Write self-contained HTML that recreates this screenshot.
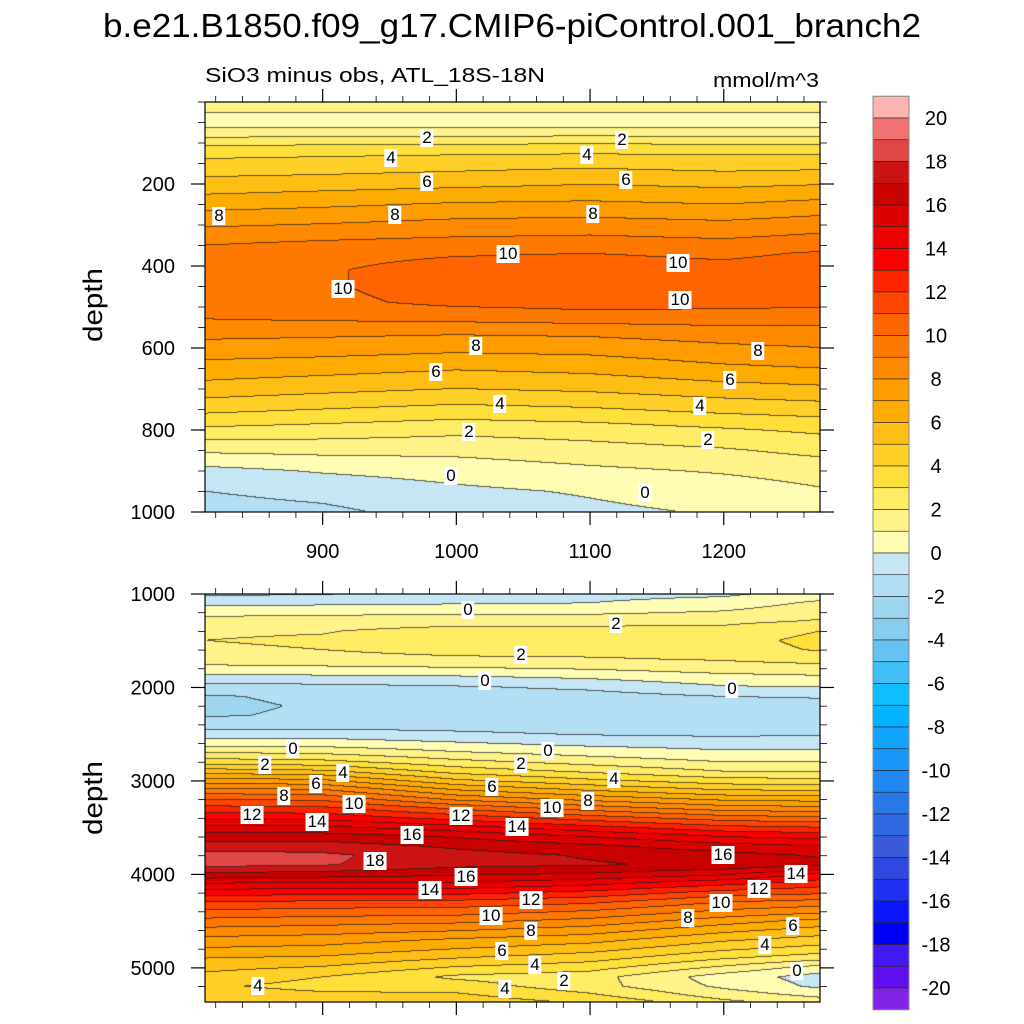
<!DOCTYPE html>
<html><head><meta charset="utf-8"><style>
body{margin:0;background:#fff;}
#root{position:relative;width:1024px;height:1024px;overflow:hidden;background:#fff;font-family:"Liberation Sans",sans-serif;}
canvas{position:absolute;}
.lbl{position:absolute;transform:translate(-50%,-50%);background:#fff;font-size:17px;line-height:18px;padding:0 2px;color:#000;}
svg{position:absolute;left:0;top:0;}
</style></head><body>
<div id="root">
<canvas id="cTop" width="615" height="410" style="left:205px;top:102px"></canvas>
<canvas id="cBot" width="615" height="408" style="left:205px;top:594px"></canvas>
<svg id="ax" width="1024" height="1024">
<text x="103" y="37" font-size="33" textLength="818" lengthAdjust="spacingAndGlyphs" font-family="Liberation Sans">b.e21.B1850.f09_g17.CMIP6-piControl.001_branch2</text>
<text x="205" y="82" font-size="20" textLength="340" lengthAdjust="spacingAndGlyphs" font-family="Liberation Sans">SiO3 minus obs, ATL_18S-18N</text>
<text x="713" y="87" font-size="20" textLength="106" lengthAdjust="spacingAndGlyphs" font-family="Liberation Sans">mmol/m^3</text>
<text transform="translate(102,305) rotate(-90)" font-size="27" text-anchor="middle" textLength="74" lengthAdjust="spacingAndGlyphs" font-family="Liberation Sans">depth</text>
<text transform="translate(102,798) rotate(-90)" font-size="27" text-anchor="middle" textLength="74" lengthAdjust="spacingAndGlyphs" font-family="Liberation Sans">depth</text>
</svg>
</div>
<script>
// ---- data ----
const xCols = [812, 900, 1000, 1100, 1200, 1272];
const topDepths = [0,20,40,60,80,100,130,170,210,250,290,330,370,410,450,490,520,560,600,650,700,750,800,850,900,950,1000];
const top812  = [1.6,1.2,0.7,0.9,1.6,2.7,3.8,4.7,5.6,6.6,7.6,8.6,9.4,9.7,9.8,9.6,9.2,8.4,7.6,6.6,5.6,4.3,2.8,1.2,-0.3,-1.0,-1.4];
const top900  = [1.6,1.2,0.7,0.9,1.7,2.8,3.9,4.8,5.8,6.8,7.8,8.8,9.7,9.9,9.9,9.8,9.4,8.3,7.5,6.4,5.3,4.0,2.6,1.3,0.1,-0.7,-1.2];
const top1000 = [1.6,1.2,0.7,0.9,1.7,2.8,4.0,5.0,6.0,7.1,8.1,9.0,9.9,10.4,10.4,10.2,9.6,8.2,7.3,6.1,5.0,3.7,2.3,1.3,0.4,-0.2,-0.6];
const top1100 = [1.6,1.2,0.7,0.9,1.8,2.9,4.1,5.2,6.2,7.2,8.2,9.1,10.0,10.5,10.5,10.3,9.8,8.3,7.4,6.3,5.2,3.9,2.5,1.6,0.8,0.1,-0.2];
const top1200 = [1.6,1.2,0.7,0.9,1.7,2.8,4.0,5.0,6.0,7.0,8.0,8.9,9.8,10.3,10.4,10.2,9.8,8.6,7.8,6.8,5.6,4.3,2.9,1.9,1.1,0.5,0.1];
const top1272 = [1.6,1.2,0.7,0.9,1.7,2.8,4.0,5.1,6.2,7.3,8.3,9.2,10.1,10.5,10.5,10.3,9.6,8.7,8.0,7.0,5.8,4.5,3.2,2.3,1.4,0.9,0.6];
const botDepths = [1000,1100,1200,1300,1400,1500,1600,1700,1800,1900,2000,2100,2200,2300,2400,2500,2600,2700,2800,2900,3000,3100,3200,3300,3400,3500,3600,3700,3800,3900,4000,4100,4200,4300,4400,4500,4600,4700,4800,4900,5000,5100,5200,5300,5365];
const bot812  = [-1.2,-0.3,0.6,1.5,1.9,2.0,1.9,1.5,0.7,-0.4,-1.4,-2.1,-2.2,-2.1,-1.6,-0.5,0.5,2.0,3.5,5.5,7.5,9.3,11.0,12.4,13.8,15.3,16.5,17.5,18.4,18.3,16.8,15.0,13.5,12.0,10.8,9.7,8.7,7.7,6.9,6.0,5.3,4.7,4.2,4.6,5.0];
const bot900  = [-1.1,-0.2,0.7,1.6,1.95,2.1,2.0,1.6,0.8,-0.3,-1.3,-1.8,-1.9,-1.85,-1.5,-0.5,0.5,1.8,3.3,5.2,7.2,9.1,10.8,12.3,13.7,15.2,16.5,17.5,18.2,18.1,16.6,14.8,13.3,11.8,10.6,9.5,8.5,7.5,6.7,5.8,4.9,4.0,3.6,4.3,4.8];
const bot1000 = [-0.4,-0.1,0.8,1.7,2.3,2.5,2.4,1.8,0.9,-0.2,-1.1,-1.6,-1.9,-1.9,-1.5,-0.8,0.1,1.1,2.3,3.6,5.2,7.0,8.8,10.9,12.6,14.4,15.9,16.8,17.4,17.3,16.2,14.9,13.3,11.7,10.5,9.3,8.1,6.9,6.0,5.0,3.9,2.8,3.5,4.2,4.6];
const bot1100 = [-0.3,0.0,0.8,1.7,2.3,2.5,2.4,1.9,1.1,0.1,-0.8,-1.4,-1.7,-1.8,-1.6,-1.1,-0.3,0.6,1.6,2.8,4.2,5.9,7.7,9.6,11.5,13.3,15.0,16.2,16.9,17.1,15.9,14.3,12.7,11.2,9.9,8.7,7.5,6.4,5.4,4.4,3.4,2.4,2.4,3.2,3.8];
const bot1200 = [-0.2,0.4,1.1,1.8,2.3,2.6,2.5,2.1,1.5,0.6,-0.1,-1.0,-1.5,-1.6,-1.5,-1.2,-0.5,0.2,1.0,2.0,3.4,5.0,6.8,8.6,10.5,12.3,14.0,15.4,16.4,16.8,15.2,13.3,11.6,10.0,8.8,7.5,6.3,5.2,4.2,3.1,1.8,0.5,0.8,1.6,2.2];
const bot1272 = [0.4,1.2,1.7,2.1,3.0,3.3,3.1,2.4,1.6,0.8,0.0,-0.9,-1.4,-1.5,-1.4,-1.1,-0.5,0.2,1.0,2.0,3.3,4.9,6.6,8.4,10.2,12.0,13.7,15.0,15.9,16.3,13.8,12.5,11.2,9.6,8.3,6.7,5.6,4.6,3.6,2.4,0.6,-0.4,-0.2,0.8,1.5];
const xTicks = [900, 1000, 1100, 1200];
const topYTicks = [200, 400, 600, 800, 1000];
const botYTicks = [1000, 2000, 3000, 4000, 5000];
const cbLevels = [20,18,16,14,12,10,8,6,4,2,0,-2,-4,-6,-8,-10,-12,-14,-16,-18,-20];
const binColors = ["#ffb4b4","#f07272","#e04646","#cc1414","#c80000","#dc0000","#ec0000","#ff0000","#ff2400","#ff4600","#ff6400","#ff7800","#ff8a00","#ff9c00","#ffac00","#ffbe14","#ffd028","#ffe03a","#ffeb64","#fff288","#fffcb4","#c6e6f6","#b4def4","#9ed6f0","#88ccee","#66c2f2","#40bef6","#10beff","#00b2ff","#10a4ff","#1896fa","#2086f2","#2878ea","#3068e2","#3a5ada","#3048e2","#2030f2","#0a14ff","#0000f8","#4418f0","#6010f0","#8224e6"];
const topLabels = [["2",427,138],["2",622,140],["4",391,158],["4",587,155],["6",427,182],["6",626,180],["8",219,216],["8",395,215],["8",593,214],["10",508,254],["10",678,263],["10",343,289],["10",680,300],["8",476,346],["8",758,351],["6",436,372],["6",730,380],["4",500,404],["4",700,406],["2",469,432],["2",708,440],["0",451,476],["0",645,493]];
const botLabels = [["0",468,610],["2",616,624],["2",521,655],["0",485,681],["0",732,689],["0",293,749],["2",265,765],["0",548,751],["2",521,764],["4",343,773],["6",316,784],["4",614,779],["6",492,787],["8",284,796],["8",588,801],["10",354,804],["10",552,808],["12",252,815],["12",461,816],["14",317,822],["14",517,827],["16",412,835],["18",375,861],["16",723,855],["16",466,877],["14",430,890],["14",796,874],["12",759,889],["10",491,916],["12",531,900],["10",721,903],["8",688,918],["8",531,931],["6",793,926],["6",502,951],["4",765,945],["4",535,965],["2",564,981],["0",797,971],["4",258,986],["4",505,989]];

// ---- axes ----
const PX0=205, PX1=820;
const xMin=812, xMax=1272;
function xScale(v){return PX0+(v-xMin)/(xMax-xMin)*(PX1-PX0);}
const topY0=102, topY1=512, topDMin=0, topDMax=1000;
function yTop(d){return topY0+(d-topDMin)/(topDMax-topDMin)*(topY1-topY0);}
const botY0=594, botY1=1002, botDMin=1000, botDMax=5365;
function yBot(d){return botY0+(d-botDMin)/(botDMax-botDMin)*(botY1-botY0);}

function interp1(xs, v){
  if(v<=xs[0]) return [0,0,0];
  for(let i=0;i<xs.length-1;i++){ if(v<=xs[i+1]) return [i,i+1,(v-xs[i])/(xs[i+1]-xs[i])]; }
  return [xs.length-1,xs.length-1,0];
}
function hexRGB(h){return [parseInt(h.substr(1,2),16),parseInt(h.substr(3,2),16),parseInt(h.substr(5,2),16)];}
const binRGB = binColors.map(hexRGB);
function binIndex(v){
  let k=Math.floor(v);
  let idx = 20 - k; if(v>=20) idx=0;
  if(idx<0) idx=0; if(idx>41) idx=41; return idx;
}
function drawPanel(id, depths, cols, yInv){
  const cv=document.getElementById(id), ctx=cv.getContext('2d');
  const W=cv.width,H=cv.height, img=ctx.createImageData(W,H);
  const V=new Float32Array(W*H);
  for(let j=0;j<H;j++){
    const d=yInv(j+0.5); const [a,b,t]=interp1(depths,d);
    const colv=cols.map(c=>c[a]*(1-t)+c[b]*t);
    for(let i=0;i<W;i++){
      const xv=xMin+(i+0.5)/W*(xMax-xMin); const [p,q,s]=interp1(xCols,xv);
      V[j*W+i]=colv[p]*(1-s)+colv[q]*s;
    }
  }
  for(let j=0;j<H;j++)for(let i=0;i<W;i++){
    const v=V[j*W+i], f=Math.floor(v); let c=binRGB[binIndex(v)];
    let line=false;
    if(i<W-1 && Math.floor(V[j*W+i+1])!==f) line=true;
    if(j<H-1 && Math.floor(V[(j+1)*W+i])!==f) line=true;
    const o=(j*W+i)*4;
    if(line){img.data[o]=c[0]*0.3+20;img.data[o+1]=c[1]*0.3+20;img.data[o+2]=c[2]*0.3+20;}
    else{img.data[o]=c[0];img.data[o+1]=c[1];img.data[o+2]=c[2];}
    img.data[o+3]=255;
  }
  ctx.putImageData(img,0,0);
}
drawPanel('cTop', topDepths, [top812,top900,top1000,top1100,top1200,top1272], j=>topDMin+j/(topY1-topY0)*(topDMax-topDMin));
drawPanel('cBot', botDepths, [bot812,bot900,bot1000,bot1100,bot1200,bot1272], j=>botDMin+j/(botY1-botY0)*(botDMax-botDMin));

const svg=document.getElementById('ax'), NS='http://www.w3.org/2000/svg';
function mk(tag,attrs,name){const e=document.createElementNS(NS,tag);for(const k in attrs)e.setAttribute(k,attrs[k]);
  
  
  svg.appendChild(e);return e;}
function frame(y0,y1,yFn,majors,minorStep,dmin,dmax,name,showX){
  mk('rect',{x:PX0,y:y0,width:PX1-PX0,height:y1-y0,fill:'none',stroke:'#000','stroke-width':1.2},name+'-frame');
  for(let xv=820;xv<=1270;xv+=20){const X=xScale(xv);const maj=xTicks.includes(xv);const L=maj?13:6;
    mk('line',{x1:X,x2:X,y1:y0,y2:y0-L,stroke:'#000','stroke-width':maj?1.2:0.8},name+'-top-tick');
    mk('line',{x1:X,x2:X,y1:y1,y2:y1+L,stroke:'#000','stroke-width':maj?1.2:0.8},name+'-bottom-tick');}
  for(let d=dmin;d<=dmax;d+=minorStep){const Y=yFn(d);if(Y<y0-0.5||Y>y1+0.5)continue;const maj=majors.includes(d);const L=maj?14:7;
    mk('line',{x1:PX0,x2:PX0-L,y1:Y,y2:Y,stroke:'#000','stroke-width':maj?1.2:0.8},name+'-left-tick');
    mk('line',{x1:PX1,x2:PX1+L,y1:Y,y2:Y,stroke:'#000','stroke-width':maj?1.2:0.8},name+'-right-tick');}
  majors.forEach(d=>{const t=mk('text',{x:175,y:yFn(d)+7,'font-size':20,'text-anchor':'end','font-family':'Liberation Sans'},name+'-y-tick-label');t.textContent=d;});
  if(showX) xTicks.forEach(v=>{const t=mk('text',{x:xScale(v),y:y1+46,'font-size':20,'text-anchor':'middle','font-family':'Liberation Sans'},'x-tick-label');t.textContent=v;});
}
frame(topY0,topY1,yTop,topYTicks,50,0,1000,'top-panel',true);
frame(botY0,botY1,yBot,botYTicks,200,1000,5400,'bottom-panel',false);

// colorbar
const cbX=873,cbW=36,cbZero=553,cbH=21.75;
function cbY(L){return cbZero-L*cbH;}
binColors.forEach((c,i)=>{const L=21-i; mk('rect',{x:cbX,y:cbY(L),width:cbW,height:cbH,fill:c,stroke:'#222','stroke-width':0.6},'colorbar-box');});
mk('rect',{x:cbX,y:cbY(21),width:cbW,height:42*cbH,fill:'none',stroke:'#888','stroke-width':1},'colorbar-frame');
cbLevels.forEach(L=>{const t=mk('text',{x:936,y:cbY(L)+7,'font-size':20,'text-anchor':'middle','font-family':'Liberation Sans'},'colorbar-label');t.textContent=L;});

// contour labels
const root=document.getElementById('root');
topLabels.concat(botLabels).forEach(l=>{const d=document.createElement('div');d.className='lbl';d.textContent=l[0];
  d.style.left=l[1]+'px';d.style.top=l[2]+'px';
  
  
  root.appendChild(d);});
</script>
</body></html>
